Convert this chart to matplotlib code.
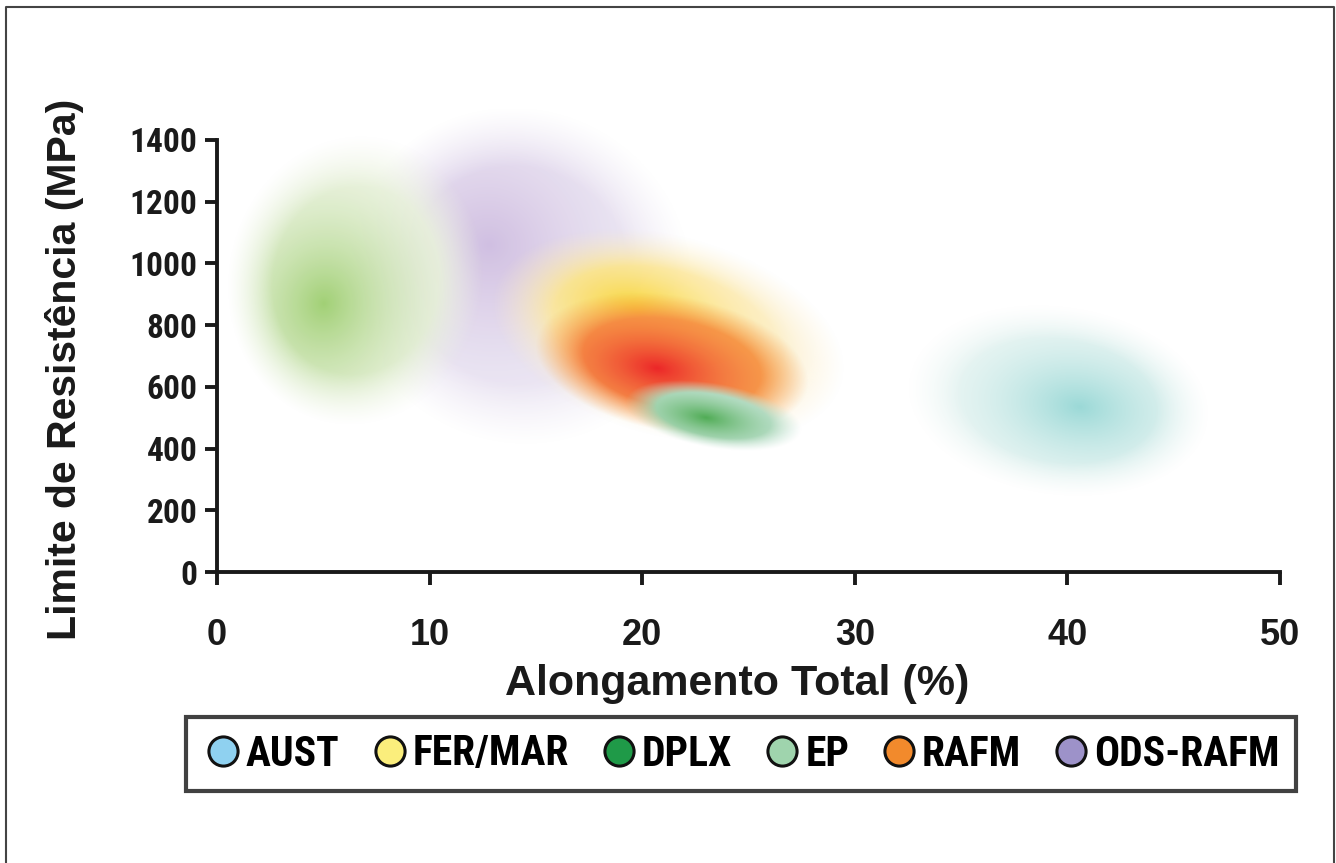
import numpy as np
import matplotlib
matplotlib.use('Agg')
import matplotlib.pyplot as plt
from matplotlib.lines import Line2D
from matplotlib.colors import to_rgb

narrow = ['Roboto Condensed', 'PT Sans Narrow', 'Liberation Sans']
plt.rcParams['font.family'] = ['Liberation Sans', 'DejaVu Sans']
plt.rcParams['font.weight'] = 'bold'

# legend categories and their colours
categories = ['AUST', 'FER/MAR', 'DPLX', 'EP', 'RAFM', 'ODS-RAFM']
legend_colors = ['#8fd1f0', '#fbee7c', '#1f9a48', '#9fd4ad', '#f28a2c', '#9d92c9']

# property fields: centre (elongation %, strength MPa), half-spreads, tilt, densest point
field_names = ['ODS-RAFM', 'EP', 'FER/MAR', 'RAFM', 'DPLX', 'AUST']
center_x = [14.2, 6.5, 21.2, 21.4, 23.35, 39.6]
center_y = [960, 945, 765, 675, 507, 555]
spread_x = [8.2, 6.0, 8.5, 6.5, 4.2, 7.1]
spread_y = [540, 470, 325, 220, 105, 305]
tilt = [-30, -10, -15, -10, -10, -8]
core_x = [12.8, 5.0, 19.8, 20.7, 23.0, 40.6]
core_y = [1060, 870, 840, 660, 500, 535]
inner_color = ['#cfbde1', '#97cb66', '#fad31a', '#ec2024', '#50ac55', '#9bd9d7']
outer_color = ['#f0ecf6', '#eef4e3', '#fdf0cf', '#f79c48', '#c4e4d5', '#eef7f5']
core_size = [1.3, 1.2, 1.0, 1.0, 1.2, 1.15]
peak_alpha = [0.97, 0.9, 0.92, 0.97, 1.0, 1.0]

x_ticks = [0, 10, 20, 30, 40, 50]
y_ticks = [0, 200, 400, 600, 800, 1000, 1200, 1400]

fig = plt.figure(figsize=(13.36, 8.63), dpi=100)
ax = fig.add_axes([217 / 1336, 1 - 572 / 863, 1063 / 1336, 432 / 863])
ax.set_xlim(0, 50)
ax.set_ylim(0, 1400)

# pixels per data unit, so the tilt is an on-screen angle
kx = 1063 / 50
ky = 432 / 1400


def ellipse_radius(gx, gy, cx, cy, sx, sy, t):
    p = (gx - cx) * kx
    q = (gy - cy) * ky
    a = p * np.cos(t) + q * np.sin(t)
    b = -p * np.sin(t) + q * np.cos(t)
    return np.hypot(a / (sx * kx), b / (sy * ky))


gx, gy = np.meshgrid(np.linspace(0, 50, 800), np.linspace(0, 1500, 600))
for i in range(len(field_names)):
    t = np.deg2rad(tilt[i])
    r = ellipse_radius(gx, gy, center_x[i], center_y[i], spread_x[i], spread_y[i], t)
    alpha = peak_alpha[i] * np.clip((1 - r) / 0.35, 0, 1) ** 1.1
    rc = ellipse_radius(gx, gy, core_x[i], core_y[i], spread_x[i], spread_y[i], t)
    s = np.clip(rc / core_size[i], 0, 1)
    w = (1 - (1 - s) ** 1.8)[..., None]
    rgb = np.array(to_rgb(inner_color[i])) * (1 - w) + np.array(to_rgb(outer_color[i])) * w
    ax.imshow(np.dstack([rgb, alpha]), extent=[0, 50, 0, 1500], origin='lower', aspect='auto',
              interpolation='bilinear', zorder=1, clip_on=False)
ax.set_xlim(0, 50)
ax.set_ylim(0, 1400)

for side in ['top', 'right']:
    ax.spines[side].set_visible(False)
for side in ['left', 'bottom']:
    ax.spines[side].set_linewidth(2.8)
    ax.spines[side].set_color('#1a1a1a')
    ax.spines[side].set_zorder(5)

ax.set_xticks(x_ticks)
ax.set_yticks(y_ticks)
ax.tick_params(direction='out', length=9, width=2.8, color='#1a1a1a')
ax.tick_params(axis='x', pad=24)
ax.tick_params(axis='y', pad=5)
ax.set_xticklabels([str(v) for v in x_ticks], fontsize=26, fontweight='bold', color='#1a1a1a')
ax.set_yticklabels([str(v) for v in y_ticks], fontsize=24, fontweight='bold', color='#1a1a1a',
                   family=narrow)

fig.text(737 / 1336, 1 - 684 / 863, 'Alongamento Total (%)', ha='center', va='center',
         fontsize=31, fontweight='bold', color='#1a1a1a')
fig.text(65 / 1336, 1 - 369 / 863, 'Limite de Resistência (MPa)', ha='center', va='center',
         rotation=90, fontsize=29.5, fontweight='bold', color='#1a1a1a')

handles = [Line2D([], [], ls='', marker='o', markersize=21, markerfacecolor=c,
                  markeredgecolor='#111111', markeredgewidth=2.2) for c in legend_colors]
leg = fig.legend(handles, categories, loc='center', bbox_to_anchor=(741 / 1336, 1 - 754 / 863),
                 ncol=6, frameon=True, fancybox=False, handletextpad=0.05, columnspacing=0.7,
                 handlelength=1.0, borderpad=0.4, prop={'family': narrow, 'weight': 'bold', 'size': 30})
leg.get_frame().set_edgecolor('#111111')
leg.get_frame().set_linewidth(3)

# outer frame (no bottom edge)
fig.add_artist(Line2D([6 / 1336, 6 / 1336, 1334 / 1336, 1334 / 1336], [0, 1 - 7 / 863, 1 - 7 / 863, 0],
                      transform=fig.transFigure, color='#444444', lw=1.5))

fig.savefig('out.png', dpi=100)
